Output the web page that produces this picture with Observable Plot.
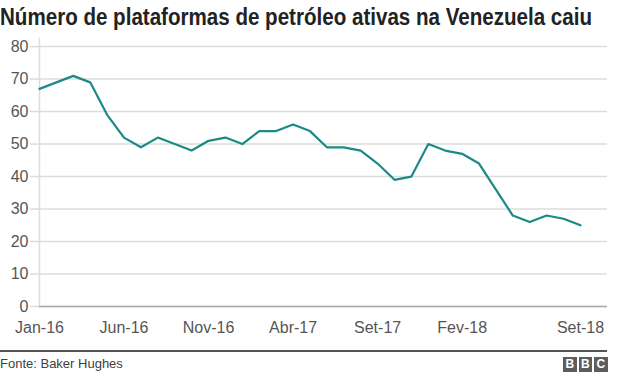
<!DOCTYPE html>
<html><head><meta charset="utf-8">
<script src="https://cdn.jsdelivr.net/npm/d3@7"></script>
<script src="https://cdn.jsdelivr.net/npm/@observablehq/plot@0.6"></script>
<style>
body{margin:0;background:#fff;font-family:"Liberation Sans",Arial,Helvetica,sans-serif;}
#wrap{position:relative;width:640px;height:376px;overflow:hidden;background:#fff}
#title{position:absolute;left:0;top:2px;font-size:23px;line-height:30px;font-weight:bold;color:#222;white-space:nowrap;transform-origin:0 0}
#chart{position:absolute;left:0;top:30px}
#rule{position:absolute;left:0;top:350px;width:607px;height:0;border-top:2px solid #555}
#source{position:absolute;left:0;top:356px;font-size:13px;line-height:16px;color:#404040}
#logo{position:absolute;left:563px;top:357px;display:flex;gap:2px}
#logo span{display:block;width:13.5px;height:15px;background:#5d5d5d;color:#fff;font-weight:bold;font-size:12px;line-height:15px;text-align:center}
</style></head>
<body>
<div id="wrap">
  <div id="title">Número de plataformas de petróleo ativas na Venezuela caiu</div>
  <div id="chart"></div>
  <div id="rule"></div>
  <div id="source">Fonte: Baker Hughes</div>
  <div id="logo"><span>B</span><span>B</span><span>C</span></div>
</div>
<script>
// Monthly active oil rigs in Venezuela, Jan-2016 .. Sep-2018
const months = ["Jan-16","Fev-16","Mar-16","Abr-16","Mai-16","Jun-16","Jul-16","Ago-16","Set-16","Out-16","Nov-16","Dez-16",
                "Jan-17","Fev-17","Mar-17","Abr-17","Mai-17","Jun-17","Jul-17","Ago-17","Set-17","Out-17","Nov-17","Dez-17",
                "Jan-18","Fev-18","Mar-18","Abr-18","Mai-18","Jun-18","Jul-18","Ago-18","Set-18"];
const rigs = [67,69,71,69,59,52,49,52,50,48,51,52,
              50,54,54,56,54,49,49,48,44,39,40,50,
              48,47,44,36,28,26,28,27,25];
const xTickLabels = ["Jan-16","Jun-16","Nov-16","Abr-17","Set-17","Fev-18","Set-18"];
const yTicks = [0,10,20,30,40,50,60,70,80];

const data = months.map((m, i) => ({i, month: m, value: rigs[i]}));
const xTicks = xTickLabels.map(l => months.indexOf(l));

// fit title width
const t = document.getElementById("title");
const w = t.getBoundingClientRect().width;
t.style.transform = `scaleX(${592 / w})`;

const chart = Plot.plot({
  width: 640,
  height: 316,
  marginLeft: 39,
  marginRight: 33,
  marginTop: 8,
  marginBottom: 40,
  style: {fontFamily: '"Liberation Sans", Arial, sans-serif', fontSize: "16px", background: "#fff", overflow: "visible"},
  x: {type: "linear", domain: [0, 33.6]},
  y: {domain: [0, 82.5]},
  marks: [
    Plot.gridY(yTicks, {stroke: "#dcdcdc", strokeOpacity: 1, strokeWidth: 1.5}),
    Plot.axisY(yTicks, {tickSize: 9, tickPadding: 2, stroke: "#dcdcdc", strokeOpacity: 1, strokeWidth: 1.5, color: "#555", fill: "#555", label: null}),
    Plot.ruleX([0], {stroke: "#dcdcdc", strokeWidth: 1.5}),
    Plot.ruleY([0], {stroke: "#aaa", strokeWidth: 1.5}),
    Plot.axisX(xTicks, {tickSize: 0, tickPadding: 15, tickFormat: d => months[d], fill: "#555", label: null}),
    Plot.line(data, {x: "i", y: "value", stroke: "#1b8a87", strokeWidth: 2.2, strokeLinejoin: "round"})
  ]
});
document.getElementById("chart").appendChild(chart);
</script>
</body></html>
